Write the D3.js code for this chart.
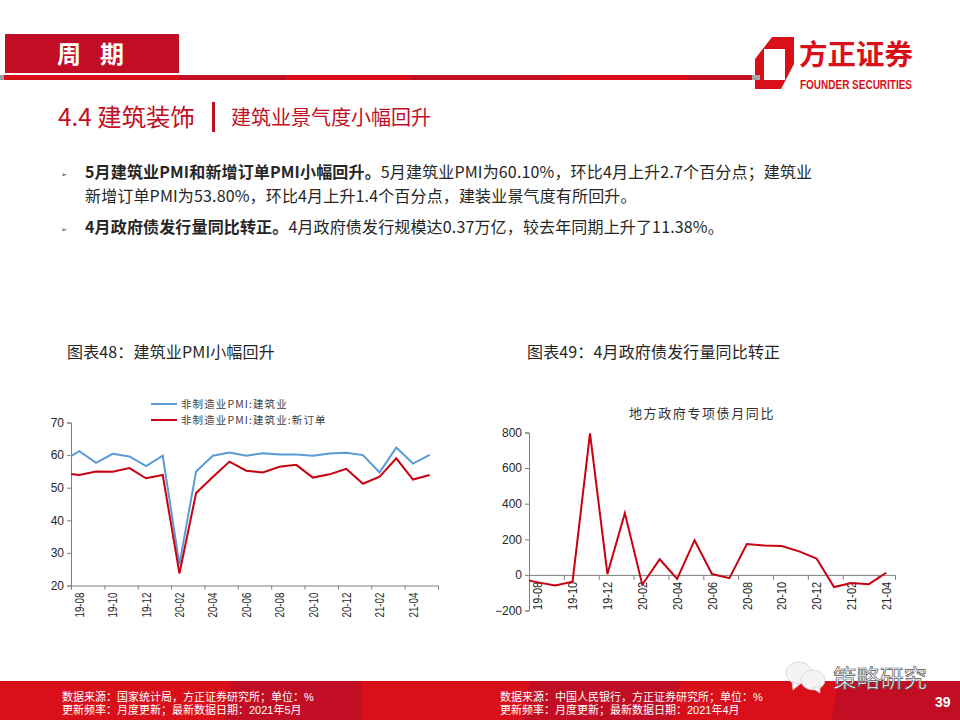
<!DOCTYPE html>
<html>
<head>
<meta charset="utf-8">
<script src="https://cdn.jsdelivr.net/npm/d3@7"></script>
<style>
body{margin:0;background:#fff;}
svg{display:block;}
text{font-family:"Noto Sans CJK SC","Noto Sans",sans-serif;}
.tick text{font-family:"Liberation Sans",Arial,sans-serif;font-size:12px;fill:#262626;}
.domain,.tick line{stroke:#7f7f7f;stroke-width:1;}
</style>
</head>
<body>
<div id="container"></div>
<script>
// index 0 is the month before the axis starts, only its segment shows at the left edge
const pmiMonths=['19-07','19-08','19-09','19-10','19-11','19-12','20-01','20-02','20-03','20-04','20-05','20-06','20-07','20-08','20-09','20-10','20-11','20-12','21-01','21-02','21-03','21-04','21-05'];
const pmiBuild=[58.2,61.2,57.6,60.4,59.6,56.6,59.8,26.5,55.0,59.8,60.8,59.8,60.6,60.2,60.2,59.8,60.5,60.7,60.0,54.7,62.3,57.4,60.1];
const pmiOrders=[54.5,53.9,55.0,54.9,56.0,52.9,53.9,23.7,48.4,53.3,58.0,55.2,54.7,56.4,57.0,53.1,54.1,55.8,51.2,53.4,59.0,52.5,53.9];
const pmiTicks=[20,30,40,50,60,70];
const pmiLegend=['非制造业PMI:建筑业','非制造业PMI:建筑业:新订单'];

const bondMonths=pmiMonths.slice(0,22);
const bondYoy=[-22,-42,-60,-38,795,5,347,-55,88,-22,195,5,-18,173,165,162,132,92,-68,-45,-52,12];
const bondTicks=[-200,0,200,400,600,800];
const bondTitle='地方政府专项债月同比';

const bullets=[
  {y:178,bold:'5月建筑业PMI和新增订单PMI小幅回升。',rest:'5月建筑业PMI为60.10%\uFF0C环比4月上升2.7个百分点\uFF1B建筑业'},
  {y:233,bold:'4月政府债发行量同比转正。',rest:'4月政府债发行规模达0.37万亿\uFF0C较去年同期上升了11.38%。'}
];
const bodyLine2='新增订单PMI为53.80%\uFF0C环比4月上升1.4个百分点\uFF0C建装业景气度有所回升。';

const red='#d90f1a', dark='#c20e24', lineRed='#c8000f', lineBlue='#5b9bd5';

const svg=d3.select('#container').append('svg').attr('width',960).attr('height',720);

function poly(pts,fill){
  svg.append('polygon').attr('points',pts.join(' ')).attr('fill',fill);
}
function label(x,y,str,size,fill,weight){
  return svg.append('text').attr('x',x).attr('y',y).attr('font-size',size)
    .attr('fill',fill).attr('font-weight',weight||400).text(str);
}

// header
svg.append('rect').attr('x',5).attr('y',34).attr('width',174).attr('height',39).attr('fill',dark);
label(57,63,'周',24,'#fff',700);
label(100,63,'期',24,'#fff',700);
svg.append('rect').attr('x',0).attr('y',75).attr('width',4).attr('height',5).attr('fill','#9aa0a6');
svg.append('rect').attr('x',4).attr('y',75).attr('width',748).attr('height',5).attr('fill',dark);
poly(['4,75','180,75','178,80','4,80'],red);
poly(['286,75','412,75','410,80','286,80'],red);
poly(['560,75','690,75','688,80','560,80'],red);

// logo
poly(['772,37','794,37','794,64','781,89','755,89','755,59'],red);
poly(['764,49','785,49','785,80','764,80'],'#fff');
svg.append('rect').attr('x',752).attr('y',75).attr('width',8).attr('height',5).attr('fill','#a8a8a8');
label(799,65,'方正证券',28.5,red,700);
label(800,89,'FOUNDER SECURITIES',12,red,700)
  .attr('textLength',112).attr('lengthAdjust','spacingAndGlyphs')
  .style('font-family','"Liberation Sans",sans-serif');

// section title
label(58,126,'4.4 建筑装饰',24.4,dark);
svg.append('rect').attr('x',212).attr('y',102).attr('width',3).attr('height',30).attr('fill',dark);
label(231,125,'建筑业景气度小幅回升',20,dark);

// body text
bullets.forEach(b=>{
  label(61,b.y-1,'➢',7,'#333').style('font-family','"DejaVu Sans"');
  const t=label(85,b.y,'',16,'#262626').attr('letter-spacing',0.15);
  t.append('tspan').attr('font-weight',700).text(b.bold);
  t.append('tspan').text(b.rest);
});
label(85,202,bodyLine2,16,'#262626').attr('letter-spacing',0.15);

label(67,358,'图表48\uFF1A建筑业PMI小幅回升',16,'#262626').attr('letter-spacing',0.15);
label(527,358,'图表49\uFF1A4月政府债发行量同比转正',16,'#262626').attr('letter-spacing',0.15);

// footer
svg.append('rect').attr('x',0).attr('y',681).attr('width',960).attr('height',39).attr('fill',red);
poly(['232,681','362,681','362,720','224,720'],dark);
poly(['530,681','680,681','672,720','522,720'],dark);
poly(['838,681','960,681','960,720','832,720'],dark);
[[62,'数据来源\uFF1A国家统计局\uFF0C方正证券研究所\uFF1B单位\uFF1A%','更新频率\uFF1A月度更新\uFF1B最新数据日期\uFF1A2021年5月'],
 [500,'数据来源\uFF1A中国人民银行\uFF0C方正证券研究所\uFF1B单位\uFF1A%','更新频率\uFF1A月度更新\uFF1B最新数据日期\uFF1A2021年4月']]
.forEach(f=>{
  label(f[0],701,f[1],11,'#fff').style('font-family','"Liberation Sans","Noto Sans CJK SC",sans-serif');
  label(f[0],714,f[2],11,'#fff').style('font-family','"Liberation Sans","Noto Sans CJK SC",sans-serif');
});
label(935,707,'39',14,'#fff',700).style('font-family','"Liberation Sans",sans-serif');

// watermark
const mark=svg.append('g').attr('fill','#f4f4f4').attr('stroke','#d0d0d0').attr('stroke-width',0.7);
mark.append('ellipse').attr('cx',799).attr('cy',673).attr('rx',13).attr('ry',11);
mark.append('polygon').attr('points','792,682 793,690 800,684');
mark.append('ellipse').attr('cx',813).attr('cy',680).attr('rx',12).attr('ry',10);
mark.append('polygon').attr('points','812,688 820,693 820,686');
label(833,687,'策略研究',23.5,'#fff').attr('stroke','#555').attr('stroke-width',0.7);

// PMI chart
const pw={left:71,right:438,top:422.5,bottom:585.5};
const x1=d3.scaleLinear().domain([0.5,22.5]).range([pw.left,pw.right]);
const y1=d3.scaleLinear().domain([20,70]).range([pw.bottom,pw.top]);

svg.append('clipPath').attr('id','clip1').append('rect')
  .attr('x',pw.left).attr('y',pw.top-2).attr('width',pw.right-pw.left).attr('height',pw.bottom-pw.top+4);

const line1=d3.line().x((d,i)=>x1(i)).y(d=>y1(d));

svg.append('g').attr('transform',`translate(${pw.left},0)`)
  .call(d3.axisLeft(y1).tickValues(pmiTicks).tickSize(4).tickPadding(3));
svg.append('g').attr('transform',`translate(0,${pw.bottom})`)
  .call(d3.axisBottom(x1).tickValues(d3.range(0.5,23,2)).tickSize(4).tickFormat(''));
svg.append('g').attr('transform',`translate(0,${pw.bottom})`)
  .call(d3.axisBottom(x1).tickValues(d3.range(1,23,2)).tickSize(0).tickFormat(i=>pmiMonths[i]))
  .call(g=>g.select('.domain').remove())
  .selectAll('text').attr('transform','rotate(-90)')
  .attr('text-anchor','end').attr('x',-7).attr('y',0).attr('dy','0.35em')
  .attr('textLength',25).attr('lengthAdjust','spacingAndGlyphs');

[[pmiBuild,lineBlue],[pmiOrders,lineRed]].forEach(s=>{
  svg.append('path').datum(s[0]).attr('d',line1).attr('fill','none')
    .attr('stroke',s[1]).attr('stroke-width',2).attr('clip-path','url(#clip1)');
});

pmiLegend.forEach((name,i)=>{
  const ly=404+i*16;
  svg.append('line').attr('x1',151).attr('x2',177).attr('y1',ly).attr('y2',ly)
    .attr('stroke',i?lineRed:lineBlue).attr('stroke-width',2);
  label(181,ly+4,name,10.5,'#404040').attr('letter-spacing',1.1);
});

// bond chart
const bw={left:529,right:895,top:432.5,bottom:610.5};
const x2=d3.scaleLinear().domain([0.5,21.5]).range([bw.left,bw.right]);
const y2=d3.scaleLinear().domain([-200,800]).range([bw.bottom,bw.top]);

svg.append('clipPath').attr('id','clip2').append('rect')
  .attr('x',bw.left).attr('y',bw.top-2).attr('width',bw.right-bw.left).attr('height',bw.bottom-bw.top+4);

svg.append('g').attr('transform',`translate(${bw.left},0)`)
  .call(d3.axisLeft(y2).tickValues(bondTicks).tickSize(4).tickPadding(3)
    .tickFormat(d=>d<0?'−'+Math.abs(d):d));
svg.append('g').attr('transform',`translate(0,${y2(0)})`)
  .call(d3.axisBottom(x2).tickValues(d3.range(0.5,22,2)).tickSize(5).tickFormat(''));
svg.append('g').attr('transform',`translate(0,${y2(0)})`)
  .call(d3.axisBottom(x2).tickValues(d3.range(1,22,2)).tickSize(0).tickFormat(i=>bondMonths[i]))
  .call(g=>g.select('.domain').remove())
  .selectAll('text').attr('transform','rotate(-90)')
  .attr('text-anchor','end').attr('x',-7).attr('y',0).attr('dy','0.35em')
  .attr('textLength',28).attr('lengthAdjust','spacingAndGlyphs');

svg.append('path').datum(bondYoy)
  .attr('d',d3.line().x((d,i)=>x2(i)).y(d=>y2(d)))
  .attr('fill','none').attr('stroke',lineRed).attr('stroke-width',2).attr('clip-path','url(#clip2)');

label(629,418,bondTitle,13,'#333').attr('letter-spacing',1.6);
</script>
</body>
</html>
